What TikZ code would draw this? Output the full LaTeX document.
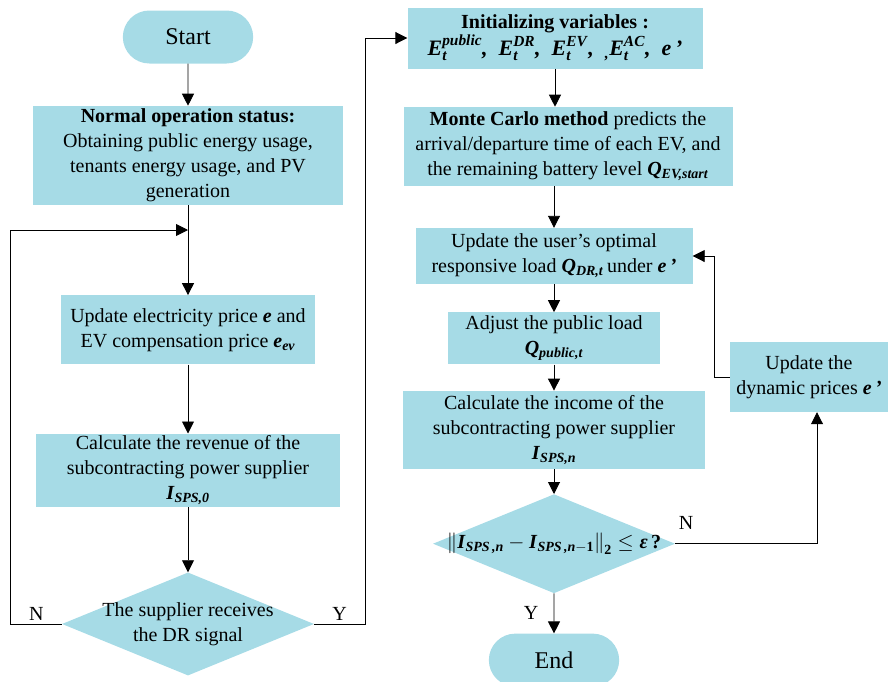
\documentclass[tikz,border=0pt]{standalone}
\usepackage{fontspec}
\setmainfont{Liberation Serif}
\usepackage{amsmath}
\usetikzlibrary{positioning,arrows.meta,shapes.geometric,shapes.misc}
\definecolor{flowblue}{RGB}{166,219,230}
\newcommand{\bv}[1]{\textbf{\textit{#1}}}
\newcommand{\sv}[2]{\bv{#1}$_{\text{\bv{#2}}}$}

\begin{document}
\begin{tikzpicture}[x=1pt, y=-1pt,
    font=\fontsize{20}{25}\selectfont,
    node distance=40pt,
    proc/.style={rectangle, fill=flowblue, align=center, inner sep=2pt},
    term/.style={rounded rectangle, fill=flowblue, minimum width=137pt, minimum height=53pt, font=\fontsize{24}{28}\selectfont},
    decision/.style={diamond, fill=flowblue, inner sep=0pt, aspect=2.45},
    arr/.style={-{Triangle[length=12pt,width=12pt]}, line width=0.9pt}
]
\useasboundingbox (0,0) rectangle (890,681);

% left column
\node[term] (start) at (188,37) {Start};
\node[proc, below=42pt of start, minimum width=310pt, minimum height=99pt] (normal) {\textbf{Normal operation status:}\\Obtaining public energy usage,\\tenants energy usage, and PV\\generation};
\node[proc, below=90pt of normal, minimum width=254pt, minimum height=69pt] (price) {Update electricity price \bv{e} and\\EV compensation price \sv{e}{ev}};
\node[proc, below=69pt of price, minimum width=304pt, minimum height=70pt] (revenue) {Calculate the revenue of the\\subcontracting power supplier\\\sv{I}{SPS,0}};
\node[decision, below=65pt of revenue, minimum width=252pt, minimum height=103pt,
      label={[align=center]center:The supplier receives\\the DR signal}] (signal) {};
\coordinate (join) at (188,230);

% right column
\node[proc, minimum width=295pt, minimum height=61pt] (init) at (555,38) {\textbf{Initializing variables :}\\{\fontsize{22}{25}\selectfont$\text{\bv{E}}_{\text{\bv{t}}}^{\text{\bv{public}}}$\bv{,}\ \ $\text{\bv{E}}_{\text{\bv{t}}}^{\text{\bv{DR}}}$\bv{,}\ \ $\text{\bv{E}}_{\text{\bv{t}}}^{\text{\bv{EV}}}$\bv{,}\ \ $_{\text{\bv{,}}}\text{\bv{E}}_{\text{\bv{t}}}^{\text{\bv{AC}}}$\bv{,}\ \ \bv{e\,’}}};
\node[proc, below=38pt of init, xshift=13pt, minimum width=329pt, minimum height=79pt] (monte) {\textbf{Monte Carlo method} predicts the\\arrival/departure time of each EV, and\\the remaining battery level \sv{Q}{EV,start}};
\node[proc, minimum width=277pt, minimum height=56pt] (optresp) at (554,256) {Update the user's optimal\\responsive load \sv{Q}{DR,t}\,under \bv{e\,’}};
\node[proc, below=28pt of optresp, minimum width=212pt, minimum height=52pt] (adjust) {Adjust the public load\\\sv{Q}{public,t}};
\node[proc, below=26pt of adjust, minimum width=302pt, minimum height=78pt] (income) {Calculate the income of the\\subcontracting power supplier\\\sv{I}{SPS,n}};
\node[decision, below=25pt of income, minimum width=242pt, minimum height=99pt,
      label={center:$\left\|\text{\bv{I}}_{\text{\bv{SPS\,,n}}}-\text{\bv{I}}_{\text{\bv{SPS\,,n}}-\mathbf{1}}\right\|_{\mathbf{2}}\le\text{\bv{ε}}$\,\textbf{?}}] (conv) {};
\node[term, below=40pt of conv] (end) {End};
\node[proc, minimum width=158pt, minimum height=70pt] (dyn) at (809,377) {Update the\\dynamic prices \bv{e\,’}};

% connectors
\draw[arr] (start) -- (normal);
\draw[arr] (normal) -- (price);
\draw[arr] (price) -- (revenue);
\draw[arr] (revenue) -- (signal);
\draw[arr] (signal.west) -- node[above] {N} ++(-51,0) |- (join);
\draw[arr] (signal.east) -- node[above] {Y} ++(51,0) |- (init.west);

\draw[arr] (init.south) -- (init.south |- monte.north);
\draw[arr] (optresp.north |- monte.south) -- (optresp.north);
\draw[arr] (optresp) -- (adjust);
\draw[arr] (adjust) -- (income);
\draw[arr] (income) -- (conv);
\draw[arr] (conv) -- node[left=12pt] {Y} (end);
\draw[arr] (conv.east) node[above right=10pt and 0pt] {N} -| ([xshift=8pt]dyn.south);
\draw[arr] (dyn.west) -- ++(-15,0) |- (optresp.east);
\end{tikzpicture}
\end{document}
